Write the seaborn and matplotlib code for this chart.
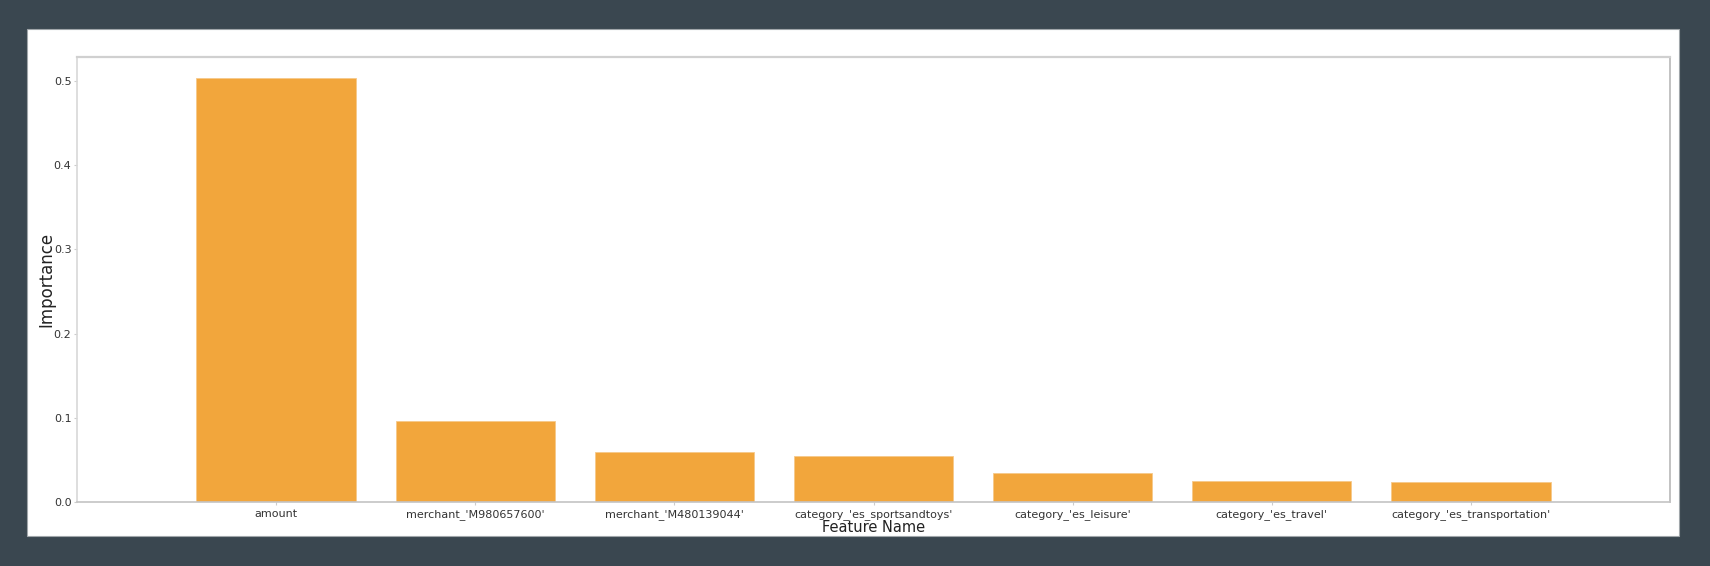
import matplotlib
matplotlib.use("Agg")
import matplotlib.pyplot as plt
import seaborn as sns
import pandas as pd
from matplotlib.patches import Rectangle

features = ["amount", "merchant_'M980657600'", "merchant_'M480139044'",
            "category_'es_sportsandtoys'", "category_'es_leisure'",
            "category_'es_travel'", "category_'es_transportation'"]
importance = [0.5035, 0.096, 0.059, 0.0545, 0.034, 0.0245, 0.0243]

df = pd.DataFrame({"Feature Name": features, "Importance": importance})

sns.set_theme(style="white")
plt.rcParams['font.family'] = ['DejaVu Sans']

fig = plt.figure(figsize=(17.1, 5.66), dpi=100)
fig.patch.set_facecolor('#3a4750')
panel = Rectangle((27/1710, 1-536/566), (1679-27)/1710, (536-29)/566,
                  transform=fig.transFigure, facecolor='white',
                  edgecolor='#a0a6aa', linewidth=0.8, zorder=-5)
fig.patches.append(panel)

ax = fig.add_axes([77/1710, 1-502/566, (1670-77)/1710, (502-57)/566])
ax.set_zorder(1)
sns.barplot(data=df, x="Feature Name", y="Importance", color='#F2A63C',
            saturation=1, width=0.8, edgecolor='#f6c98a', linewidth=0.6, ax=ax)
ax.set_xlim(-1, len(features))
ax.set_ylim(0, max(importance) * 1.05)
ax.set_yticks([0.0, 0.1, 0.2, 0.3, 0.4, 0.5])

for side, col, lw in [('left', '#d8d8d8', 1.2), ('top', '#d0d0d0', 1.6),
                      ('right', '#b8b8b8', 1.2), ('bottom', '#c4c4c4', 1.2)]:
    ax.spines[side].set_visible(True)
    ax.spines[side].set_color(col)
    ax.spines[side].set_linewidth(lw)

ax.tick_params(axis='both', which='both', labelsize=8, colors='#cccccc',
               labelcolor='#333333', length=2, width=0.8, pad=2,
               left=True, bottom=True)
ax.tick_params(axis='x', pad=3)
ax.set_xlabel("Feature Name", fontsize=10.5, color='#222222', labelpad=0)
ax.set_ylabel("Importance", fontsize=12, color='#222222', labelpad=-1)
ax.grid(False)

fig.savefig("out.png", dpi=100, facecolor=fig.get_facecolor())
